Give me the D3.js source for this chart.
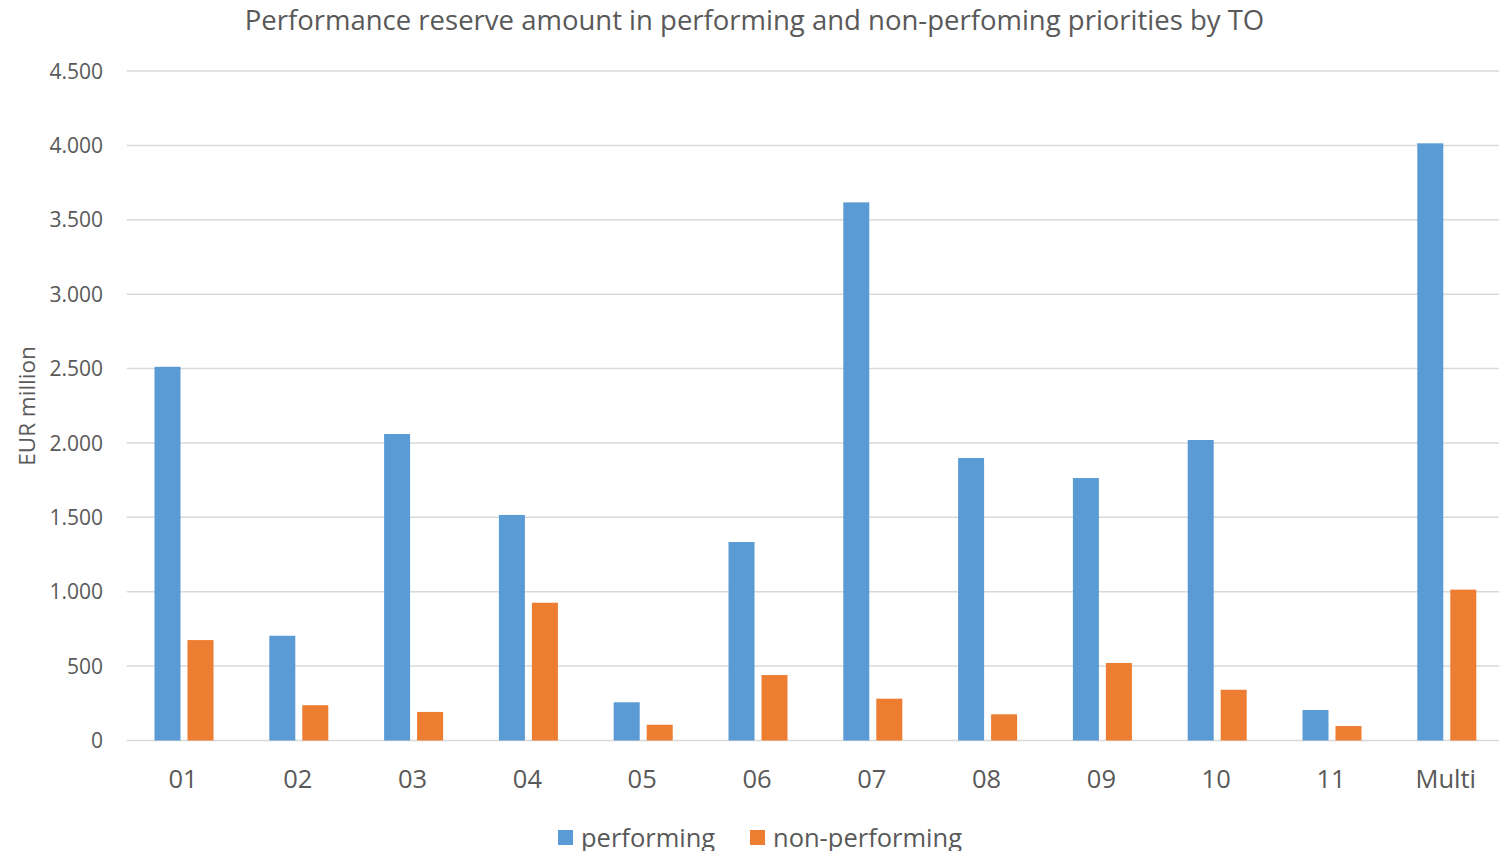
<!DOCTYPE html>
<html>
<head>
<meta charset="utf-8">
<script src="https://cdn.jsdelivr.net/npm/d3@7/dist/d3.min.js"></script>
<style>
  html, body { margin: 0; padding: 0; background: #fff; overflow: hidden; }
  text { font-family: "Open Sans", "Noto Sans", sans-serif; fill: #595959; }
</style>
</head>
<body>
<svg id="chart" width="1499" height="851"></svg>
<script>
const categories = ["01", "02", "03", "04", "05", "06", "07", "08", "09", "10", "11", "Multi"];
const performing = [2512, 704, 2060, 1516, 257, 1334, 3617, 1899, 1764, 2020, 205, 4014];
const nonPerforming = [675, 237, 192, 926, 106, 440, 281, 176, 521, 341, 97, 1014];
const seriesNames = ["performing", "non-performing"];
const seriesColors = ["#5b9bd5", "#ed7d31"];
const yTicks = [0, 500, 1000, 1500, 2000, 2500, 3000, 3500, 4000, 4500];

const svg = d3.select("#chart");
const W = 1499, H = 851;
const margin = { left: 126.6, right: -5.2, top: 71, bottom: 110.5 };

const x = d3.scaleBand().domain(categories).range([margin.left, W - margin.right]).padding(0);
const y = d3.scaleLinear().domain([0, 4500]).range([H - margin.bottom, margin.top]);

const fmt = v => d3.format(",")(v).replace(/,/g, ".");

// gridlines
svg.append("g").selectAll("line").data(yTicks).join("line")
  .attr("x1", margin.left).attr("x2", W)
  .attr("y1", d => y(d)).attr("y2", d => y(d))
  .attr("stroke", "#d9d9d9").attr("stroke-width", 1.5);

// y tick labels
svg.append("g").selectAll("text").data(yTicks).join("text")
  .attr("x", 103).attr("y", d => y(d))
  .attr("dy", "0.36em")
  .attr("text-anchor", "end")
  .style("font-size", "21px")
  .text(d => fmt(d));

// bars
const barW = 26, gap = 7;
const data = categories.map((c, i) => ({ c, vals: [performing[i], nonPerforming[i]] }));
const groups = svg.append("g").selectAll("g").data(data).join("g")
  .attr("transform", d => `translate(${x(d.c) + x.bandwidth() / 2},0)`);
groups.selectAll("rect").data(d => d.vals.map((v, k) => ({ v, k }))).join("rect")
  .attr("x", d => d.k === 0 ? -(barW + gap / 2) : gap / 2)
  .attr("width", barW)
  .attr("y", d => y(d.v))
  .attr("height", d => y(0) - y(d.v))
  .attr("fill", d => seriesColors[d.k]);

// x labels
svg.append("g").selectAll("text").data(categories).join("text")
  .attr("x", d => x(d) + x.bandwidth() / 2 - 1)
  .attr("y", 779).attr("dy", "0.36em")
  .attr("text-anchor", "middle")
  .style("font-size", "25.5px")
  .text(d => d);

// title
svg.append("text")
  .attr("x", 754.5).attr("y", 20).attr("dy", "0.36em")
  .attr("text-anchor", "middle")
  .style("font-size", "27.5px")
  .text("Performance reserve amount in performing and non-perfoming priorities by TO");

// y axis title
svg.append("text")
  .attr("transform", "translate(27,406) rotate(-90)")
  .attr("dy", "0.36em")
  .attr("text-anchor", "middle")
  .style("font-size", "22.5px")
  .text("EUR million");

// legend
const legendX = [558, 750];
const lg = svg.append("g").selectAll("g").data(seriesNames).join("g")
  .attr("transform", (d, i) => `translate(${legendX[i]},830)`);
lg.append("rect").attr("width", 15).attr("height", 15).attr("fill", (d, i) => seriesColors[i]);
lg.append("text").attr("x", 23).attr("y", 8).attr("dy", "0.36em")
  .style("font-size", "25.5px").text(d => d);
</script>
</body>
</html>
